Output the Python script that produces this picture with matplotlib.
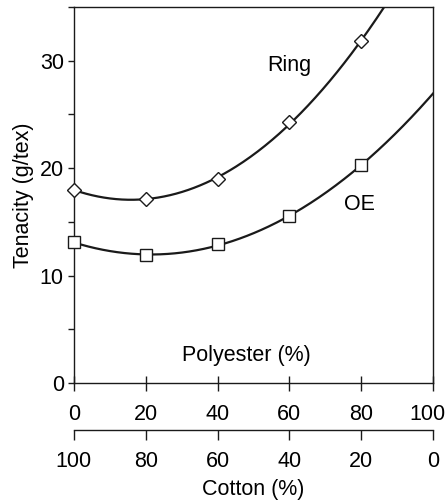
import numpy as np
import matplotlib
matplotlib.use("Agg")
import matplotlib.pyplot as plt
from matplotlib.transforms import ScaledTranslation

plt.rcParams['font.family'] = ['Liberation Sans', 'DejaVu Sans']

polyester = [0, 20, 40, 60, 80]
ring = [18.0, 17.1, 19.0, 24.3, 31.8]
oe = [13.1, 11.9, 12.9, 15.5, 20.3]
xticks = [0, 20, 40, 60, 80, 100]
cotton_labels = ['100', '80', '60', '40', '20', '0']
yticks = [0, 10, 20, 30]

FS = 15.5
fig = plt.figure(figsize=(4.48, 5.0), dpi=100)
ax = fig.add_axes([0.165, 0.234, 0.8015, 0.752])

xx = np.linspace(0, 100, 300)
for ys, mk, ms in [(ring, 'D', 7.2), (oe, 's', 8.5)]:
    c = np.polyfit(polyester, ys, 2)
    ax.plot(xx, np.polyval(c, xx), color='#1a1a1a', lw=1.6, clip_on=True)
    ax.plot(polyester, ys, linestyle='none', marker=mk, ms=ms, mfc='white',
            mec='#1a1a1a', mew=1.0, clip_on=False, zorder=3)

ax.set_xlim(0, 100)
ax.set_ylim(0, 35)
ax.set_xticks(xticks)
ax.set_yticks(yticks)
ax.set_yticks([5, 15, 25, 35], minor=True)
ax.tick_params(axis='y', which='both', direction='out', length=4.3, width=1.0,
               labelsize=FS, pad=3, color='#1a1a1a')
ax.tick_params(axis='x', direction='inout', length=10.8, width=1.0,
               labelsize=FS, pad=9.5, color='#1a1a1a')
for s in ax.spines.values():
    s.set_linewidth(1.0)
    s.set_color('#1a1a1a')
ax.set_ylabel('Tenacity (g/tex)', fontsize=FS, labelpad=4)

ax.text(48, 2.6, 'Polyester (%)', fontsize=FS, ha='center', va='center')
ax.text(60, 29.6, 'Ring', fontsize=FS, ha='center', va='center')
ax.text(79.5, 16.6, 'OE', fontsize=FS, ha='center', va='center')

ax2 = ax.twiny()
ax2.set_xlim(0, 100)
ax2.xaxis.set_ticks_position('bottom')
ax2.xaxis.set_label_position('bottom')
ax2.spines['bottom'].set_position(('outward', 34))
for k in ['top', 'left', 'right']:
    ax2.spines[k].set_visible(False)
ax2.spines['bottom'].set_linewidth(1.0)
ax2.spines['bottom'].set_color('#1a1a1a')
ax2.set_xticks(xticks)
ax2.set_xticklabels(cotton_labels)
ax2.tick_params(axis='x', direction='out', length=7, width=1.0, labelsize=FS,
                pad=8, color='#1a1a1a')
ax2.set_xlabel('Cotton (%)', fontsize=FS, labelpad=5)

# nudge the last polyester label so it stays inside the figure
lab = ax.get_xticklabels()[-1]
lab.set_transform(lab.get_transform() + ScaledTranslation(-4 / 72, 0, fig.dpi_scale_trans))

fig.savefig('out.png', dpi=100)
